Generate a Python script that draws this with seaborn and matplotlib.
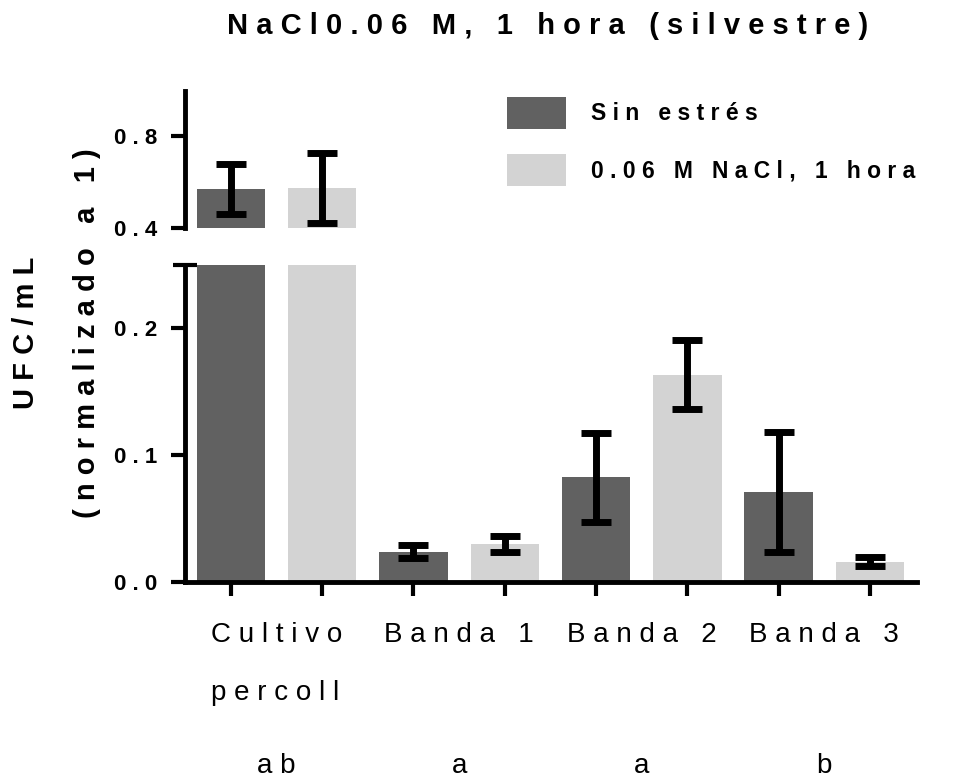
import numpy as np
import pandas as pd
import matplotlib
matplotlib.use("Agg")
import matplotlib.pyplot as plt
import seaborn as sns
from matplotlib import font_manager as fm
from matplotlib.patches import Patch
from matplotlib.container import BarContainer
from matplotlib.transforms import blended_transform_factory

# ---------------- data ----------------
groups = ["Cultivo\npercoll", "Banda 1", "Banda 2", "Banda 3"]
conditions = ["Sin estrés", "0.06 M NaCl, 1 hora"]
mean_control = [0.571, 0.024, 0.0826, 0.0708]
sd_control = [0.109, 0.0049, 0.035, 0.0472]
mean_salt = [0.575, 0.0301, 0.1633, 0.0161]
sd_salt = [0.153, 0.0061, 0.0272, 0.0036]
letters = ["ab", "a", "a", "b"]
title = "NaCl0.06 M, 1 hora (silvestre)"
ylabel = "UFC/mL\n(normalizado a 1)"
upper_ticks = [0.4, 0.8]
lower_ticks = [0.0, 0.1, 0.2]
colors = ["#616161", "#d3d3d3"]

df = pd.DataFrame({
    "group": groups * 2,
    "condition": [conditions[0]] * 4 + [conditions[1]] * 4,
    "value": mean_control + mean_salt,
    "sd": sd_control + sd_salt,
})

# ---------------- style ----------------
sns.set_style("ticks")
plt.rcParams["font.family"] = ["Liberation Sans", "DejaVu Sans"]
plt.rcParams.update({
    "axes.edgecolor": "black", "text.color": "black",
    "xtick.color": "black", "ytick.color": "black",
    "axes.labelcolor": "black",
})
names = {f.name for f in fm.fontManager.ttflist}
narrow = "Liberation Sans Narrow" if "Liberation Sans Narrow" in names else "Liberation Sans"


def track(s, n=1):
    sep = " " * n
    return "\n".join(sep.join(line) for line in s.split("\n"))


W, H = 958, 778
fig = plt.figure(figsize=(W / 100, H / 100), dpi=100)


def box(l, t, r, b):
    return [l / W, 1 - b / H, (r - l) / W, (b - t) / H]


ax_top = fig.add_axes(box(185.3, 90.7, 917.3, 228))
ax_bot = fig.add_axes(box(185.3, 265, 917.3, 582))

LW = 3.5
bar_centers = []
for ax in (ax_top, ax_bot):
    sns.barplot(data=df, x="group", y="value", hue="condition",
                hue_order=conditions, order=groups, palette=colors,
                width=1.0, gap=0.25, errorbar=None, saturation=1,
                linewidth=0, legend=False, ax=ax)
    bars = [c for c in ax.containers if isinstance(c, BarContainer)]
    bar_centers = []
    for cont, cond in zip(bars, conditions):
        sub = df[df["condition"] == cond].set_index("group").loc[groups]
        xs = [b.get_x() + b.get_width() / 2 for b in cont]
        ys = [b.get_height() for b in cont]
        bar_centers += xs
        ax.errorbar(xs, ys, yerr=sub["sd"].values, fmt="none", ecolor="black",
                    elinewidth=5, capsize=10.5, capthick=5, zorder=4)
    ax.set_xlim(-0.5, 3.51)
    ax.set_xlabel("")
    ax.set_ylabel("")
    ax.spines["top"].set_visible(False)
    ax.spines["right"].set_visible(False)
    ax.spines["left"].set_linewidth(LW)
    ax.spines["bottom"].set_linewidth(LW)
    ax.tick_params(axis="y", which="major", length=10, width=3, pad=10.5,
                   direction="out")
    ax.tick_params(axis="y", which="minor", length=17, width=3,
                   direction="inout", labelleft=False)

# upper panel
ax_top.set_ylim(0.4, 1.0)
ax_top.spines["bottom"].set_visible(False)
ax_top.set_yticks(upper_ticks, labels=[track(f"{t:.1f}") for t in upper_ticks])
ax_top.set_yticks([upper_ticks[0]], minor=True)
ax_top.set_xticks([])
ax_top.tick_params(axis="x", bottom=False, labelbottom=False)

# lower panel
ax_bot.set_ylim(0.0, 0.25)
ax_bot.set_yticks(lower_ticks, labels=[track(f"{t:.1f}") for t in lower_ticks])
ax_bot.set_yticks([0.25], minor=True)
centers = sorted(bar_centers)
ax_bot.set_xticks(centers, labels=[""] * len(centers))
ax_bot.set_xticks(range(len(groups)), labels=[track(g) for g in groups], minor=True)
ax_bot.tick_params(axis="x", which="major", length=10, width=3, direction="out")
ax_bot.tick_params(axis="x", which="minor", length=0, pad=28.5)
for lab in ax_bot.get_xticklabels(minor=True):
    lab.set_fontfamily(narrow)
    lab.set_fontsize(20)
    lab.set_linespacing(2.6)
    lab.set_multialignment("left")

for ax in (ax_top, ax_bot):
    for lab in ax.get_yticklabels():
        lab.set_fontweight("bold")
        lab.set_fontsize(16)

# significance letters
tr = blended_transform_factory(ax_bot.transData, fig.transFigure)
for i, let in enumerate(letters):
    ax_bot.text(i, 1 - 773 / H, track(let), transform=tr, ha="center",
                va="baseline", fontsize=20, family=narrow, clip_on=False)

# title & y label
fig.text(548 / W, 1 - 34.3 / H, track(title), ha="center", va="baseline",
         fontsize=21, fontweight="bold")
fig.text(56.5 / W, 1 - 333 / H, track(ylabel), rotation=90, ha="center",
         va="center", fontsize=21, fontweight="bold", linespacing=2.5,
         multialignment="center")

# legend
handles = [Patch(facecolor=c, edgecolor="none", label=track(l))
           for c, l in zip(colors, conditions)]
fig.legend(handles=handles, loc="upper left",
           bbox_to_anchor=(506.7 / W, 1 - 97.3 / H),
           frameon=False, borderpad=0, borderaxespad=0,
           prop={"weight": "bold", "size": 16.5},
           handlelength=2.58, handleheight=1.72, labelspacing=1.13,
           handletextpad=1.1)

fig.savefig("out.png", dpi=100)
